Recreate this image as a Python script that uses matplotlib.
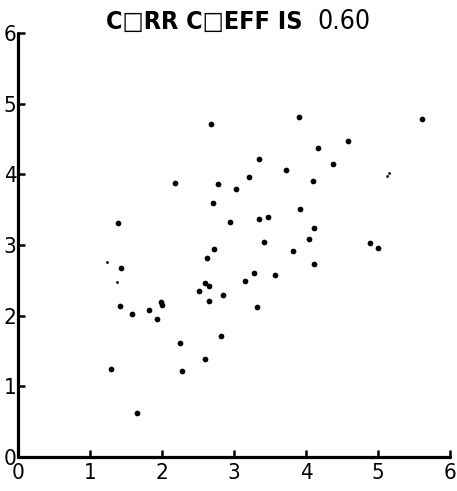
import numpy as np
import matplotlib.pyplot as plt

# scatter data (x, y) - last four are the faint/small dots
x_vals = [1.39, 1.43, 1.42, 1.58, 1.82, 1.93, 1.99, 2.00, 1.29, 1.65,
          2.18, 2.25, 2.28, 2.63, 2.60, 2.65, 2.51, 2.65, 2.60, 2.68,
          2.71, 2.78, 2.72, 2.82, 2.85, 2.94, 3.03, 3.21, 3.15, 3.28,
          3.32, 3.35, 3.35, 3.47, 3.42, 3.57, 3.72, 3.82, 3.90, 3.92,
          4.04, 4.10, 4.11, 4.11, 4.17, 4.38, 4.58, 4.89, 5.00, 5.61]
y_vals = [3.31, 2.67, 2.14, 2.02, 2.08, 1.95, 2.19, 2.15, 1.24, 0.62,
          3.88, 1.61, 1.22, 2.81, 2.46, 2.42, 2.35, 2.21, 1.39, 4.71,
          3.59, 3.86, 2.94, 1.71, 2.29, 3.32, 3.79, 3.96, 2.49, 2.60,
          2.12, 4.22, 3.37, 3.39, 3.04, 2.57, 4.06, 2.91, 4.81, 3.51,
          3.08, 3.90, 3.24, 2.73, 4.37, 4.14, 4.47, 3.03, 2.96, 4.78]
small_x = [1.24, 1.38, 5.13, 5.15]
small_y = [2.76, 2.48, 3.97, 4.02]

ticks = [0, 1, 2, 3, 4, 5, 6]
tick_labels = ['0', '1', '2', '3', '4', '5', '6']
title_left = 'C\u25a1RR C\u25a1EFF IS'
title_right = '0.60'

fig = plt.figure(figsize=(4.57, 4.91), dpi=100)
ax = fig.add_axes([0.0394, 0.0692, 0.9453, 0.8635])

ax.scatter(x_vals, y_vals, s=17, color='black', linewidths=0)
ax.scatter(small_x, small_y, s=4, color='black', linewidths=0)

ax.set_xlim(0, 6)
ax.set_ylim(0, 6)
for side in ['top', 'right']:
    ax.spines[side].set_visible(False)
for side in ['left', 'bottom']:
    ax.spines[side].set_linewidth(2.3)
    ax.spines[side].set_capstyle('round')

ax.set_xticks(ticks)
ax.set_xticklabels(tick_labels, fontstretch='condensed')
ax.set_yticks(ticks)
ax.set_yticklabels(tick_labels, fontstretch='condensed')
ax.tick_params(axis='both', direction='in', length=5, width=1.8,
               labelsize=16, colors='black')
ax.tick_params(axis='x', pad=4)
ax.tick_params(axis='y', pad=1)

fig.text(0.661, 0.955, title_left, ha='right', va='center',
         fontsize=18, fontstretch='condensed', fontweight='bold')
fig.text(0.694, 0.955, title_right, ha='left', va='center',
         fontsize=19, fontstretch='condensed', fontweight='light')

fig.savefig('out.png', dpi=100)
